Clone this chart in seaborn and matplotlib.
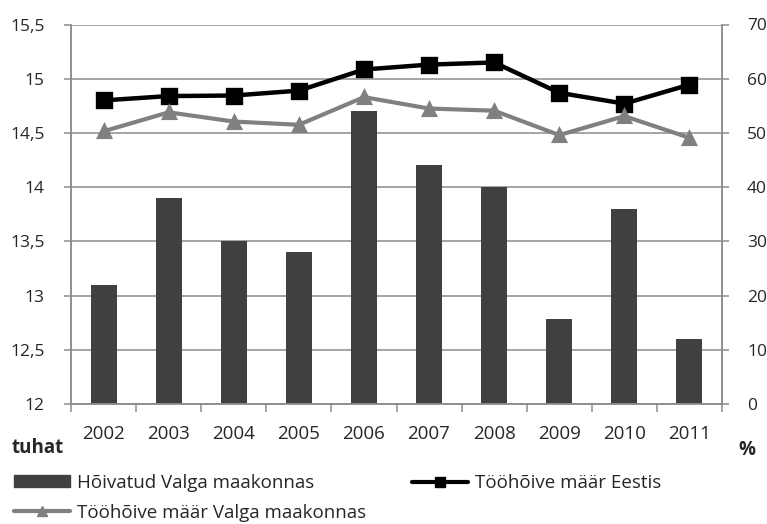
import matplotlib
matplotlib.use("Agg")
import matplotlib.pyplot as plt
import seaborn as sns
import pandas as pd
from matplotlib.lines import Line2D
from matplotlib.patches import Patch

years = ["2002", "2003", "2004", "2005", "2006", "2007", "2008", "2009", "2010", "2011"]
employed_valga = [13.1, 13.9, 13.5, 13.4, 14.7, 14.2, 14.0, 12.78, 13.8, 12.6]
rate_estonia = [56.0, 56.8, 56.9, 57.8, 61.7, 62.6, 63.0, 57.4, 55.4, 58.9]
rate_valga = [50.3, 53.8, 52.1, 51.5, 56.6, 54.5, 54.1, 49.6, 53.1, 49.1]

left_ticks = [12, 12.5, 13, 13.5, 14, 14.5, 15, 15.5]
right_ticks = [0, 10, 20, 30, 40, 50, 60, 70]

lbl_bar = "Hõivatud Valga maakonnas"
lbl_est = "Tööhõive määr Eestis"
lbl_valga = "Tööhõive määr Valga maakonnas"

sns.set_theme(style="white")
plt.rcParams["font.family"] = ["Open Sans", "DejaVu Sans"]

FS = 13.5
YFS = 12.5

df = pd.DataFrame({"year": years, "emp": employed_valga,
                   "est": rate_estonia, "valga": rate_valga})

fig = plt.figure(figsize=(7.67, 5.24), dpi=100)
ax = fig.add_axes([71/767, 1-404/524, (722-71)/767, (404-24.5)/524])

grid_c = "#8c8c8c"
bar_c = "#404040"
gray_c = "#808080"

sns.barplot(data=df, x="year", y="emp", color=bar_c, width=0.4,
            saturation=1, linewidth=0, ax=ax, zorder=2)
ax.set_ylim(12, 15.5)
ax.set_yticks(left_ticks)
ax.set_yticklabels([f"{v:g}".replace(".", ",") for v in left_ticks])
ax.set_xlim(-0.5, 9.5)
ax.set_axisbelow(True)
ax.yaxis.grid(True, color=grid_c, linewidth=1.1)
ax.set_xlabel("")
ax.set_ylabel("")

ax2 = ax.twinx()
sns.pointplot(data=df, x="year", y="est", color="black", markers="s",
              ax=ax2, linewidth=3.2, markersize=9.5, errorbar=None)
sns.pointplot(data=df, x="year", y="valga", color=gray_c, markers="^",
              ax=ax2, linewidth=3.0, markersize=8.5, errorbar=None)
ax2.set_ylim(0, 70)
ax2.set_yticks(right_ticks)
ax2.set_xlim(-0.5, 9.5)
ax2.set_ylabel("")
ax2.set_xlabel("")
ax2.grid(False)

for a in (ax, ax2):
    for s in a.spines.values():
        s.set_color(grid_c)
        s.set_linewidth(1.1)
    a.spines["top"].set_visible(False)

ax.tick_params(axis="y", which="major", direction="out", length=5, width=1.1,
               color=grid_c, labelsize=YFS, pad=14, left=True)
ax2.tick_params(axis="y", which="major", direction="out", length=5, width=1.1,
                color=grid_c, labelsize=YFS, pad=13, right=True)
ax.tick_params(axis="x", which="major", length=0, labelsize=FS, pad=15)
ax.set_xticks([i - 0.5 for i in range(len(years) + 1)], minor=True)
ax.tick_params(axis="x", which="minor", direction="out", length=6, width=1.1,
               color=grid_c, bottom=True)
ax2.tick_params(axis="x", which="both", length=0, labelbottom=False)

fig.text(12/767, 1-448/524, "tuhat", fontsize=FS, fontweight="bold",
         ha="left", va="center")
fig.text(738/767, 1-450/524, "%", fontsize=FS, fontweight="bold",
         ha="left", va="center")

handles = [
    Patch(facecolor=bar_c, edgecolor=bar_c),
    Line2D([], [], color=gray_c, linewidth=3.0, marker="^", markersize=6.5),
    Line2D([], [], color="black", linewidth=3.0, marker="s", markersize=7),
]
labels = [lbl_bar, lbl_valga, lbl_est]
fig.legend(handles, labels, ncol=2, loc="upper left",
           bbox_to_anchor=(14/767, 1-474/524), frameon=False, fontsize=FS,
           handlelength=3.0, handleheight=0.6, handletextpad=0.35,
           columnspacing=2.45, labelspacing=0.62, borderaxespad=0, borderpad=0)

fig.savefig("out.png", dpi=100)
